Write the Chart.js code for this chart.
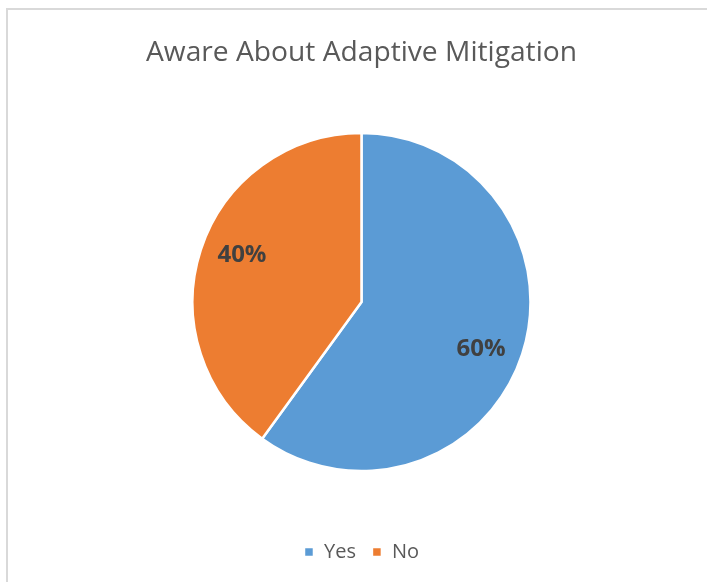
<!DOCTYPE html>
<html>
<head>
<meta charset="utf-8">
<script src="https://cdn.jsdelivr.net/npm/chart.js@4.4.0/dist/chart.umd.min.js"></script>
<style>
  html, body { margin: 0; padding: 0; background: #ffffff; }
  #wrap { position: relative; width: 707px; height: 582px; overflow: hidden; }
  #frame { position: absolute; left: 6px; top: 8px; width: 760px; height: 640px; border: 2px solid #d9d9d9; box-sizing: border-box; }
  canvas { position: absolute; left: 0; top: 0; }
</style>
</head>
<body>
<div id="wrap">
  <div id="frame"></div>
  <canvas id="c" width="707" height="582"></canvas>
</div>
<script>
const titleText = "Aware About Adaptive Mitigation";
const categories = ["Yes", "No"];
const values = [60, 40];
const colors = ["#5B9BD5", "#ED7D31"];

// fit title font size to reference width
const mc = document.createElement("canvas").getContext("2d");
mc.font = "400 28px 'Open Sans'";
const titleSize = Math.round(28 * 432 / mc.measureText(titleText).width * 10) / 10;
const titleTop = 36;
const titleBottom = Math.max(78 - titleTop - titleSize * 1.2, 0);

const labelPlugin = {
  id: "pctLabels",
  afterDatasetsDraw(chart) {
    const ctx = chart.ctx;
    const meta = chart.getDatasetMeta(0);
    const total = values.reduce((a, b) => a + b, 0);
    ctx.save();
    ctx.font = "700 24px 'Open Sans'";
    ctx.fillStyle = "#404040";
    ctx.textAlign = "center";
    ctx.textBaseline = "middle";
    meta.data.forEach((arc, i) => {
      const p = arc.getProps(["x", "y", "startAngle", "endAngle", "outerRadius"], true);
      const mid = (p.startAngle + p.endAngle) / 2 + 0.06;
      const r = p.outerRadius * 0.76;
      const tx = p.x + Math.cos(mid) * r;
      const ty = p.y + Math.sin(mid) * r;
      ctx.fillText(Math.round(values[i] / total * 100) + "%", tx, ty);
    });
    ctx.restore();
  }
};

new Chart(document.getElementById("c"), {
  type: "pie",
  data: {
    labels: categories,
    datasets: [{
      data: values,
      backgroundColor: colors,
      borderColor: "#ffffff",
      borderWidth: 2.5,
      radius: 169
    }]
  },
  options: {
    responsive: false,
    animation: false,
    layout: { padding: { left: 16, right: 0, top: 0, bottom: 10 } },
    plugins: {
      title: {
        display: true,
        text: titleText,
        color: "#595959",
        font: { family: "'Open Sans'", size: titleSize, weight: "400" },
        padding: { top: titleTop, bottom: titleBottom }
      },
      legend: {
        display: true,
        position: "bottom",
        labels: {
          color: "#595959",
          font: { family: "'Open Sans'", size: 20 },
          boxWidth: 10,
          boxHeight: 10,
          padding: 16
        }
      },
      tooltip: { enabled: false }
    }
  },
  plugins: [labelPlugin]
});
</script>
</body>
</html>
